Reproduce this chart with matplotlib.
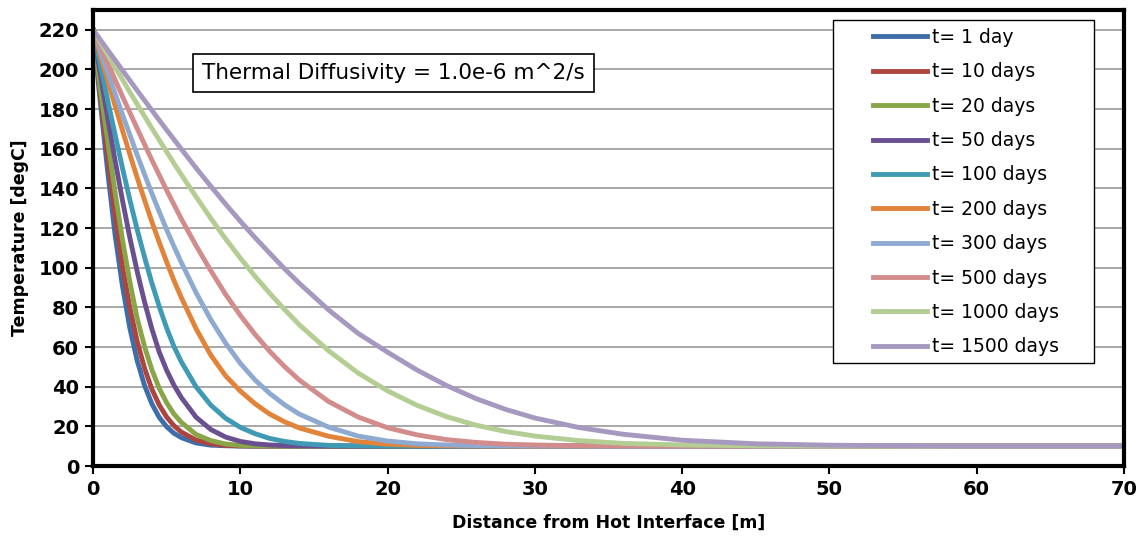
import matplotlib
matplotlib.use('Agg')
import matplotlib.pyplot as plt
from matplotlib.patches import Rectangle

plt.rcParams['font.family'] = ['DejaVu Sans']

# distance from hot interface [m]
x_m = [0, 0.5, 1, 1.5, 2, 2.5, 3, 3.5, 4, 4.5, 5, 5.5, 6, 7, 8, 9, 10, 11, 12, 13,
       14, 16, 18, 20, 22, 24, 26, 28, 30, 33, 36, 40, 45, 50, 55, 60, 70]

# temperature [degC]
t_1 = [220, 183.3, 148.3, 116.5, 90.8, 69.6, 53.1, 40.6, 31.3, 24.5, 19.8, 16.5, 14.3,
       11.6, 10.5, 10.2, 10.05] + [10] * 20
t_10 = [220, 187.3, 155.8, 126.7, 100.7, 79.9, 62.9, 49.3, 38.7, 30.7, 24.7, 20.3, 17.1,
        13.1, 11.2, 10.4, 10.15, 10.05] + [10] * 19
t_20 = [220, 189.8, 164.0, 138.0, 114.1, 92.9, 74.4, 60.2, 48.5, 39.1, 31.9, 26.2, 22.0,
        15.9, 12.8, 11.1, 10.4, 10.2, 10.1, 10.05] + [10] * 17
t_50 = [220, 197.6, 175.4, 154.1, 134.0, 115.2, 98.1, 82.7, 69.1, 57.4, 48.3, 40.7, 34.5,
        24.6, 18.4, 14.6, 12.4, 11.2, 10.6, 10.3, 10.15, 10.05] + [10] * 15
t_100 = [220, 202.1, 184.3, 167.1, 150.3, 134.3, 119.2, 105.3, 92.2, 80.4, 69.6, 60.2, 52.5,
         39.9, 30.7, 24.1, 19.5, 16.3, 13.9, 12.4, 11.4, 10.4, 10.15, 10.05] + [10] * 13
t_200 = [220, 207.2, 194.4, 181.7, 169.3, 157.2, 145.4, 134.1, 123.1, 112.8, 102.9, 93.5, 84.9,
         69.2, 55.9, 45.5, 37.8, 31.4, 26.2, 22.3, 19.2, 15.0, 12.3, 11.0, 10.4, 10.2, 10.1,
         10.05] + [10] * 9
t_300 = [220, 209.3, 198.5, 187.9, 177.3, 167.1, 156.9, 147.1, 137.4, 128.2, 119.2, 110.7, 102.6,
         87.4, 73.8, 62.0, 51.8, 43.4, 36.6, 30.9, 26.2, 19.6, 15.1, 12.6, 11.2, 10.6, 10.3,
         10.15, 10.1, 10.05] + [10] * 7
t_500 = [220, 211.6, 203.2, 194.8, 186.4, 178.3, 170.2, 162.2, 154.3, 146.7, 139.1, 131.8, 124.6,
         111.1, 98.5, 86.6, 76.0, 66.4, 57.8, 50.2, 43.4, 32.5, 24.7, 19.3, 15.7, 13.3, 11.9,
         11.0, 10.6, 10.2, 10.1, 10.05, 10, 10, 10, 10, 10]
t_1000 = [220, 213.7, 207.4, 201.1, 194.9, 188.6, 182.5, 176.4, 170.3, 164.4, 158.5, 152.6, 146.9,
          135.8, 124.9, 114.6, 104.9, 95.7, 87.1, 79.0, 71.3, 58.1, 46.9, 37.9, 30.6, 24.9, 20.6,
          17.4, 15.1, 12.8, 11.4, 10.6, 10.2, 10.05, 10, 10, 10]
t_1500 = [220, 215.0, 209.8, 204.7, 199.6, 194.5, 189.4, 184.4, 179.4, 174.4, 169.5, 164.7, 159.8,
          150.3, 141.1, 132.1, 123.5, 115.2, 107.3, 99.5, 92.2, 78.7, 66.9, 57.4, 48.4, 40.6, 34.0,
          28.6, 24.2, 19.4, 16.0, 13.0, 11.2, 10.5, 10.2, 10.05, 10]

labels = ['t= 1 day', 't= 10 days', 't= 20 days', 't= 50 days', 't= 100 days',
          't= 200 days', 't= 300 days', 't= 500 days', 't= 1000 days', 't= 1500 days']
series = [t_1, t_10, t_20, t_50, t_100, t_200, t_300, t_500, t_1000, t_1500]
colors = ['#3E6EAA', '#AE4440', '#88A548', '#6B5091', '#3F9AB5',
          '#E2833A', '#8FAAD1', '#D38C8C', '#B3CD93', '#A798BF']

W, H = 1139, 537
fig = plt.figure(figsize=(W / 100, H / 100), dpi=100)
ax = fig.add_axes([93 / W, 71 / H, 1031 / W, 456 / H])

for vals, lab, col in zip(series, labels, colors):
    ax.plot(x_m, vals, color=col, lw=3.5, label=lab, solid_joinstyle='round')

ax.set_xlim(0, 70)
ax.set_ylim(0, 230)
ax.set_xticks(range(0, 71, 10))
ax.set_yticks(range(0, 221, 20))
ax.yaxis.grid(True, color='#999999', lw=1.2)
ax.set_axisbelow(True)
for s in ax.spines.values():
    s.set_linewidth(3)
    s.set_zorder(10)
ax.tick_params(direction='out', length=6, width=1.5, labelsize=14, pad=4)
for lab in ax.get_xticklabels() + ax.get_yticklabels():
    lab.set_fontweight('bold')

ax.set_xlabel('Distance from Hot Interface [m]', fontsize=12.5, fontweight='bold')
ax.set_ylabel('Temperature [degC]', fontsize=12.5, fontweight='bold')
ax.xaxis.label.set_va('center')
ax.yaxis.label.set_va('center')
ax.xaxis.set_label_coords(0.5, (466 - 523) / 456)
ax.yaxis.set_label_coords((20 - 93) / 1031, 0.5)

# legend: entries without frame, frame drawn separately so it can be wider
leg = ax.legend(loc='upper left', bbox_to_anchor=(873 / W, 1 - 28 / H),
                bbox_transform=fig.transFigure, frameon=False, fontsize=13.5,
                handlelength=2.9, handletextpad=0.27, labelspacing=0.82,
                borderpad=0, borderaxespad=0)
leg.set_zorder(6)
frame = Rectangle((833 / W, 1 - 363 / H), 261 / W, 343 / H, transform=fig.transFigure,
                  fc='white', ec='black', lw=1, zorder=5, clip_on=False)
ax.add_patch(frame)

ax.text(20.4, 198, 'Thermal Diffusivity = 1.0e-6 m^2/s', ha='center', va='center',
        fontsize=15.5, zorder=7,
        bbox=dict(boxstyle='square,pad=0.42', fc='white', ec='black', lw=1.2))

fig.savefig('out.png', dpi=100)
